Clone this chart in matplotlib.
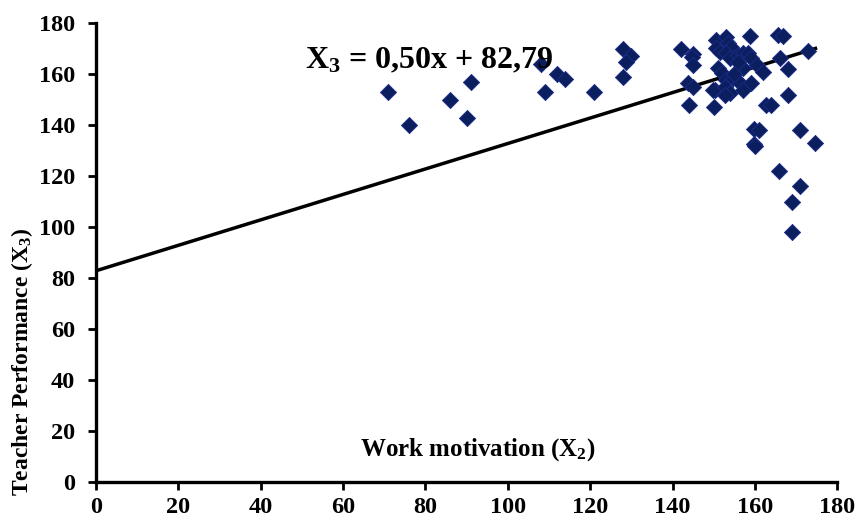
import matplotlib
matplotlib.use('Agg')
import matplotlib.pyplot as plt
import numpy as np

# Work motivation (X2) vs Teacher Performance (X3)
work_motivation = [71, 76, 86, 91, 90, 108, 109, 112, 114, 121,
                   128, 130, 128.8, 128, 142, 145, 144.8, 145, 143.8, 145, 144, 150, 150.2,
                   150.6, 152.9, 153.5, 154.3, 150.6, 151.5, 153.1, 153.9, 155.9, 157.1,
                   158.3, 159.1, 160.4, 162.0, 151.0, 151.9, 153.1, 154.7, 157.1, 156.3,
                   159.1, 149.8, 152.7, 153.9, 157.1, 152.7, 155.0, 156.0,
                   158.9, 165.6, 166.8, 166.0, 172.9, 168.0, 168.0, 162.8, 164.0,
                   159.7, 161.0, 159.7, 160.0, 170.9, 174.7, 165.8, 170.9, 168.9, 168.9]
teacher_performance = [153, 140, 150, 157, 143, 164, 153, 160, 158, 153,
                       170, 167, 165, 159, 170, 168, 166.6, 163.6, 156.4, 154.8, 148, 147, 153.8,
                       173.4, 174.5, 172.4, 170.8, 170.2, 168.8, 168.2, 166.2, 167.5, 168.2,
                       168.4, 166.2, 163.6, 161.0, 162.3, 160.3, 157.7, 158.4, 162.3, 156.4,
                       156.4, 153.8, 155.1, 152.5, 153.8, 151.8, 160.0, 165.0,
                       175.0, 175.4, 175.0, 166.2, 169.2, 161.9, 151.8, 147.9, 147.9,
                       138.4, 138.1, 132.6, 131.8, 138.1, 132.9, 122.1, 116.1, 109.9, 98.2]
slope, intercept = 0.50, 82.79
x_ticks = [0, 20, 40, 60, 80, 100, 120, 140, 160, 180]
y_ticks = [0, 20, 40, 60, 80, 100, 120, 140, 160, 180]

plt.rcParams['font.family'] = ['Liberation Serif', 'DejaVu Serif']
plt.rcParams['font.weight'] = 'bold'
plt.rcParams['mathtext.fontset'] = 'custom'
plt.rcParams['mathtext.rm'] = 'Liberation Serif'
plt.rcParams['mathtext.bf'] = 'Liberation Serif:bold'
plt.rcParams['mathtext.default'] = 'bf'

fig = plt.figure(figsize=(8.6, 5.25), dpi=100)
ax = fig.add_axes([0.1113, 0.0825, 0.8623, 0.8731])

ax.scatter(work_motivation, teacher_performance, marker='D', s=68,
           color='#0b1f5e', edgecolors='#1c2a8a', linewidths=0.6, zorder=3)
xl = np.array([0, max(work_motivation)])
ax.plot(xl, slope * xl + intercept, color='black', lw=2.5, zorder=2)

ax.set_xlim(0, 180)
ax.set_ylim(0, 180)
ax.set_xticks(x_ticks)
ax.set_yticks(y_ticks)
ax.tick_params(axis='both', labelsize=17.5, width=2, length=6, direction='out')
ax.tick_params(axis='y', pad=9)
ax.tick_params(axis='x', pad=5)
for lab in ax.get_xticklabels() + ax.get_yticklabels():
    lab.set_fontweight('bold')
for s in ['top', 'right']:
    ax.spines[s].set_visible(False)
for s in ['left', 'bottom']:
    ax.spines[s].set_linewidth(2.4)

ax.text(0.515, 0.07, r'Work motivation (X$_2$)', transform=ax.transAxes,
        fontsize=18, fontweight='bold', ha='center', va='center')
fig.text(0.026, 0.31, r'Teacher Performance (X$_3$)', rotation=90,
         fontsize=17, fontweight='bold', ha='center', va='center')
ax.text(0.282, 0.918, r'X$_3$ = 0,50x + 82,79', transform=ax.transAxes,
        fontsize=23, fontweight='bold', ha='left', va='center')

fig.savefig('out.png', dpi=100)
